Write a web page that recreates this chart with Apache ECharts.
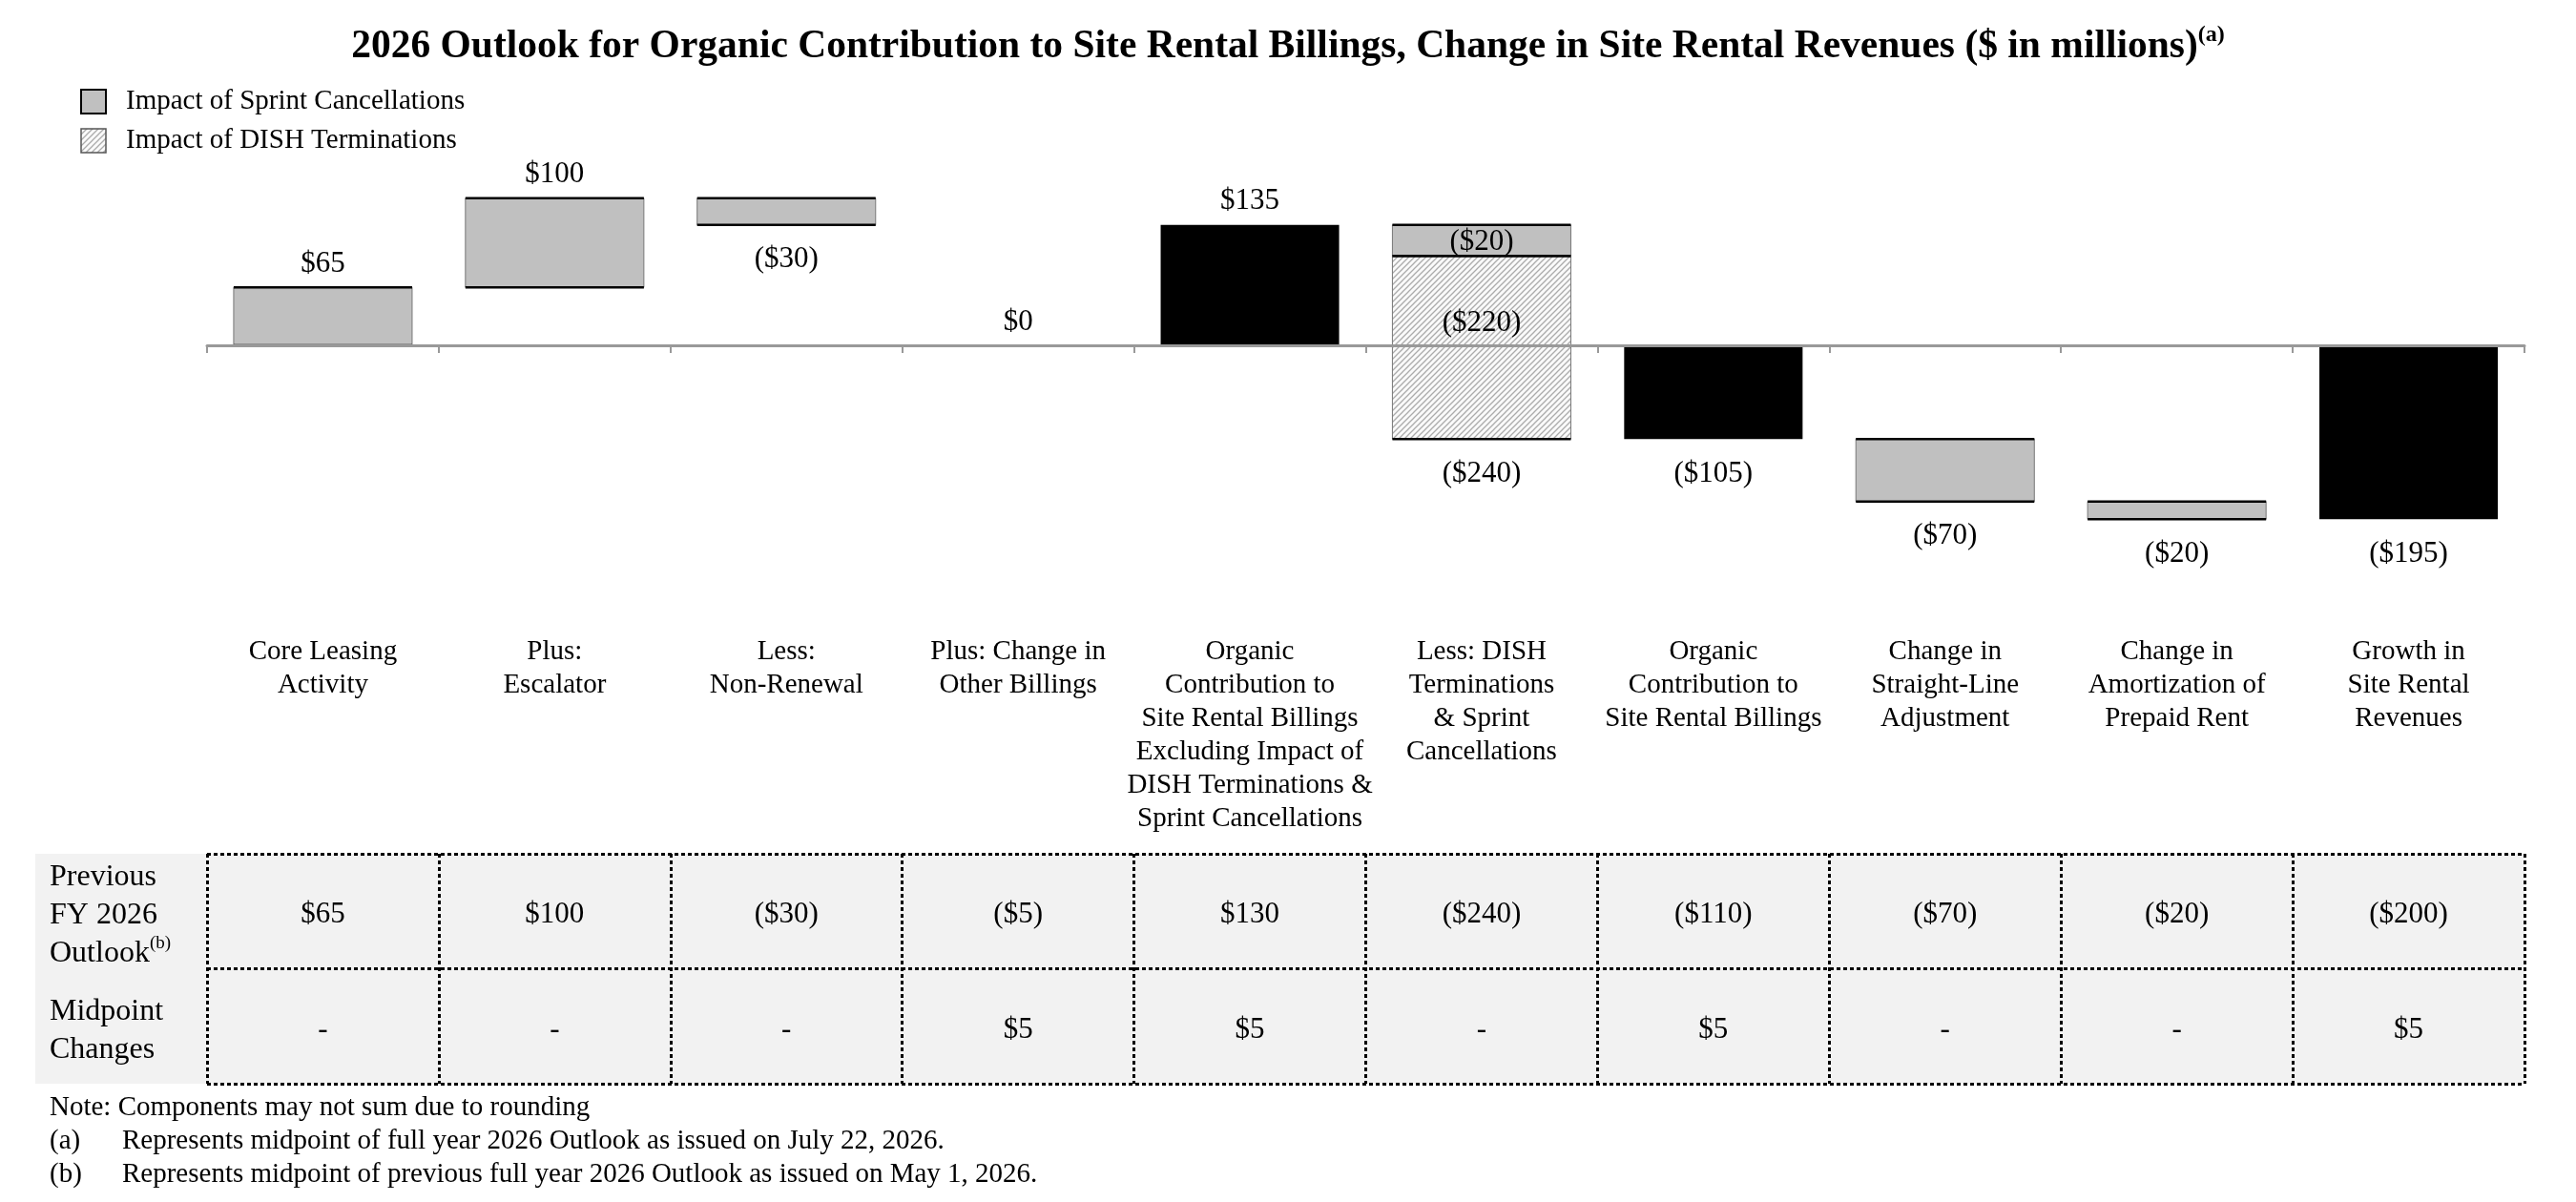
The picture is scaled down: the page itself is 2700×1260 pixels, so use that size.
<!DOCTYPE html>
<html>
<head>
<meta charset="utf-8">
<title>2026 Outlook - Site Rental Billings</title>
<script src="https://cdn.jsdelivr.net/npm/echarts@6.0.0/dist/echarts.min.js"></script>
<style>
    html, body { margin: 0; padding: 0; background: #fff; }
    #chart { width: 2700px; height: 1260px; }
</style>
</head>
<body>
<div id="chart"></div>
<script>
// data
var categories = [
    'Core Leasing\nActivity',
    'Plus:\nEscalator',
    'Less:\nNon-Renewal',
    'Plus: Change in\nOther Billings',
    'Organic\nContribution to\nSite Rental Billings\nExcluding Impact of\nDISH Terminations &\nSprint Cancellations',
    'Less: DISH\nTerminations\n& Sprint\nCancellations',
    'Organic\nContribution to\nSite Rental Billings',
    'Change in\nStraight-Line\nAdjustment',
    'Change in\nAmortization of\nPrepaid Rent',
    'Growth in\nSite Rental\nRevenues'
];
var changes = [65, 100, -30, 0, 135, -240, -105, -70, -20, -195];
var isTotal = [false, false, false, false, true, false, true, false, false, true];

// "Less: DISH..." bar split: Sprint on top, DISH below
var splitIndex = 5;
var splitImpact = [-20, -220];   // as labelled
var splitDrawn = [-35, -205];    // segment heights as drawn in the picture

var rowNames = ['Previous\nFY 2026\nOutlook{sup|(b)}', 'Midpoint\nChanges'];
var prevOutlook = [65, 100, -30, -5, 130, -240, -110, -70, -20, -200];
var midpointChanges = [null, null, null, 5, 5, null, 5, null, null, 5];

var legendNames = ['Impact of Sprint Cancellations', 'Impact of DISH Terminations'];

// ---- styles
var SERIF = 'Liberation Serif';
var GRAY = '#c0c0c0';
var BAR_RATIO = 0.77;

function fmt(v) {
    if (v === null || v === undefined) return '-';
    return v < 0 ? '($' + (-v) + ')' : '$' + v;
}

var hatch = document.createElement('canvas');
hatch.width = 6;
hatch.height = 6;
var g = hatch.getContext('2d');
g.fillStyle = '#fafafa';
g.fillRect(0, 0, 6, 6);
g.strokeStyle = '#ababab';
g.lineWidth = 1.3;
g.beginPath();
g.moveTo(-1, 7); g.lineTo(7, -1);
g.moveTo(-1, 1); g.lineTo(1, -1);
g.moveTo(5, 7); g.lineTo(7, 5);
g.stroke();
var hatchFill = {image: hatch, repeat: 'repeat'};

// waterfall spans (a zero change sits on the axis)
var run = 0;
var barData = changes.map(function (c, i) {
    var start = isTotal[i] ? 0 : run;
    var end = isTotal[i] ? c : run + c;
    run = end;
    if (c === 0) { start = 0; end = 0; }
    var kind = isTotal[i] ? 1 : (i === splitIndex ? 2 : 0);
    return [i, Math.min(start, end), Math.max(start, end), kind];
});
var splitTop = barData[splitIndex][2];
var sprintData = [[splitIndex, splitTop + splitDrawn[0], splitTop, 3]];
var dishData = [[splitIndex, splitTop + splitDrawn[0] + splitDrawn[1], splitTop + splitDrawn[0], 4]];

var tableData = [];
prevOutlook.forEach(function (v, i) { tableData.push([i, 0]); });
midpointChanges.forEach(function (v, i) { tableData.push([i, 1]); });
var tableRows = [prevOutlook, midpointChanges];

function makeRender(labelFor) {
    return function (params, api) {
        var x = api.value(0), lo = api.value(1), hi = api.value(2), kind = api.value(3);
        var top = api.coord([x, hi]);
        var bot = api.coord([x, lo]);
        var w = api.size([1, 0])[0] * BAR_RATIO;
        var l = top[0] - w / 2;
        var h = bot[1] - top[1];
        var kids = [];
        if (kind === 1) {
            kids.push({type: 'rect', shape: {x: l, y: top[1], width: w, height: h}, style: {fill: '#000'}});
        } else if (kind !== 2 && h > 0.5) {
            kids.push({type: 'rect', shape: {x: l, y: top[1], width: w, height: h},
                style: {fill: kind === 4 ? hatchFill : GRAY, stroke: '#777', lineWidth: 1}});
            kids.push({type: 'line', shape: {x1: l, y1: top[1], x2: l + w, y2: top[1]}, style: {stroke: '#000', lineWidth: 2.5}});
            kids.push({type: 'line', shape: {x1: l, y1: bot[1], x2: l + w, y2: bot[1]}, style: {stroke: '#000', lineWidth: 2.5}});
        }
        var lab = labelFor(x, top[1], bot[1]);
        kids.push({type: 'text', z2: 10, style: {
            text: lab.text, x: top[0], y: lab.y, align: 'center', verticalAlign: lab.va,
            fontSize: 31, fontFamily: SERIF, fill: '#000'
        }});
        return {type: 'group', children: kids};
    };
}

var option = {
    animation: false,
    backgroundColor: '#fff',
    textStyle: {fontFamily: SERIF, color: '#000'},
    title: [{
        left: 'center',
        top: 25,
        padding: 0,
        text: '{t|2026 Outlook for Organic Contribution to Site Rental Billings, Change in Site Rental Revenues ($ in millions)}{s|(a)}',
        textStyle: {
            rich: {
                t: {fontSize: 41.5, fontWeight: 'bold', fontFamily: SERIF, lineHeight: 48, color: '#000', verticalAlign: 'middle'},
                s: {fontSize: 24, fontWeight: 'bold', fontFamily: SERIF, lineHeight: 44, color: '#000', verticalAlign: 'top'}
            }
        }
    }, {
        left: 52,
        top: 1144,
        padding: 0,
        text: 'Note: Components may not sum due to rounding\n' +
            '{l|(a)}Represents midpoint of full year 2026 Outlook as issued on July 22, 2026.\n' +
            '{l|(b)}Represents midpoint of previous full year 2026 Outlook as issued on May 1, 2026.',
        textStyle: {
            fontSize: 29, fontWeight: 'normal', fontFamily: SERIF, lineHeight: 35, color: '#000',
            rich: {l: {width: 76, fontSize: 29, fontFamily: SERIF, lineHeight: 35, color: '#000'}}
        }
    }],
    legend: {
        orient: 'vertical',
        left: 84,
        top: 92,
        padding: 0,
        itemWidth: 26,
        itemHeight: 25,
        itemGap: 12,
        selectedMode: false,
        textStyle: {fontSize: 29, lineHeight: 25, fontFamily: SERIF, color: '#000', padding: [0, 0, 0, 16]},
        data: [
            {name: legendNames[0], icon: 'rect', itemStyle: {color: GRAY, borderColor: '#000', borderWidth: 2}},
            {name: legendNames[1], icon: 'rect', itemStyle: {color: hatchFill, borderColor: '#555', borderWidth: 1.5}}
        ]
    },
    grid: [
        {left: 217, right: 54, top: 175, height: 467.5},
        {left: 217, right: 54, top: 895, height: 241, show: true, backgroundColor: '#f2f2f2', borderWidth: 0}
    ],
    graphic: [{
        type: 'rect', left: 37, top: 895, z: -1,
        shape: {width: 180, height: 241}, style: {fill: '#f2f2f2'}
    }],
    xAxis: [{
        type: 'category',
        gridIndex: 0,
        data: categories,
        z: 5,
        axisLine: {onZero: true, lineStyle: {color: '#999', width: 3}},
        axisTick: {show: true, length: 8, lineStyle: {color: '#999', width: 2}},
        axisLabel: {interval: 0, margin: 23, fontSize: 29, lineHeight: 35, fontFamily: SERIF, color: '#000'},
        splitLine: {show: false}
    }, {
        type: 'category',
        gridIndex: 1,
        data: categories,
        axisLine: {show: false},
        axisTick: {show: false},
        axisLabel: {show: false},
        splitLine: {show: true, lineStyle: {color: '#000', width: 3, type: [4, 3]}}
    }],
    yAxis: [{
        type: 'value',
        gridIndex: 0,
        min: -300,
        max: 200,
        show: false
    }, {
        type: 'category',
        gridIndex: 1,
        inverse: true,
        data: rowNames,
        axisLine: {show: false},
        axisTick: {show: false},
        axisLabel: {
            align: 'left', margin: 165, fontSize: 32, lineHeight: 40, fontFamily: SERIF, color: '#000',
            padding: [9, 0, 0, 0],
            rich: {sup: {fontSize: 19, lineHeight: 24, fontFamily: SERIF, color: '#000', verticalAlign: 'top'}}
        },
        splitLine: {show: true, lineStyle: {color: '#000', width: 3, type: [4, 3]}}
    }],
    series: [{
        type: 'custom',
        name: 'Waterfall',
        xAxisIndex: 0,
        yAxisIndex: 0,
        itemStyle: {color: GRAY},
        encode: {x: 0, y: [1, 2]},
        renderItem: makeRender(function (x, yTop, yBot) {
            var v = changes[x];
            return v >= 0 ? {text: fmt(v), y: yTop - 9, va: 'bottom'} : {text: fmt(v), y: yBot + 21, va: 'top'};
        }),
        data: barData
    }, {
        type: 'custom',
        name: legendNames[0],
        xAxisIndex: 0,
        yAxisIndex: 0,
        itemStyle: {color: GRAY},
        encode: {x: 0, y: [1, 2]},
        renderItem: makeRender(function (x, yTop, yBot) {
            return {text: fmt(splitImpact[0]), y: (yTop + yBot) / 2 + 2, va: 'middle'};
        }),
        data: sprintData
    }, {
        type: 'custom',
        name: legendNames[1],
        xAxisIndex: 0,
        yAxisIndex: 0,
        itemStyle: {color: '#eee'},
        encode: {x: 0, y: [1, 2]},
        renderItem: makeRender(function (x, yTop, yBot) {
            return {text: fmt(splitImpact[1]), y: yTop + 70, va: 'middle'};
        }),
        data: dishData
    }, {
        type: 'scatter',
        name: 'Table',
        xAxisIndex: 1,
        yAxisIndex: 1,
        symbolSize: 1,
        itemStyle: {color: 'rgba(0,0,0,0)', opacity: 1},
        label: {
            show: true,
            position: 'inside',
            offset: [0, 4],
            fontSize: 31,
            fontFamily: SERIF,
            color: '#000',
            formatter: function (p) { return fmt(tableRows[p.value[1]][p.value[0]]); }
        },
        data: tableData
    }]
};

var myChart = echarts.init(document.getElementById('chart'));
myChart.setOption(option);

window.addEventListener('resize', function () {
    myChart.resize();
});
</script>
</body>
</html>
